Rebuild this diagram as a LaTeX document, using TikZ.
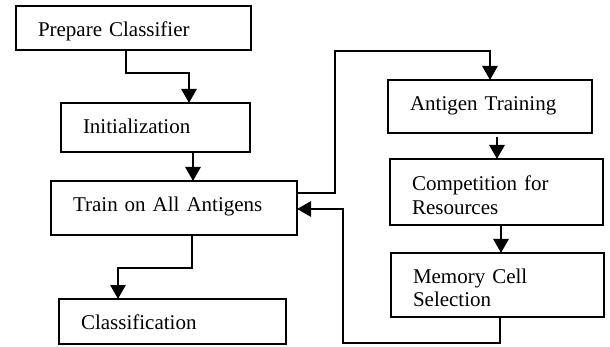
\documentclass[tikz,border=0pt]{standalone}
\usepackage{fontspec}
\setmainfont{Liberation Serif}
\usetikzlibrary{arrows.meta}
\begin{document}
\begin{tikzpicture}[x=1pt,y=-1pt,
  box/.style={draw=black,line width=2.8pt,rectangle,outer sep=0pt,inner xsep=22pt,inner ysep=0pt,
    align=left,font=\fontsize{21}{23.5}\selectfont},
  arr/.style={draw=black,line width=2.8pt,-{Triangle[length=14pt,width=15pt]}}]
  \useasboundingbox (0,0) rectangle (610,347);

  % left column
  \node[box,minimum width=235pt,minimum height=44pt,text width=191pt,text height=18pt,text depth=0pt]
    (prep) at (133.5,28) {Prepare Classifier};
  \node[box,minimum width=189pt,minimum height=49pt,text width=145pt,text height=13pt,text depth=0pt]
    (init) at (155.5,127.5) {Initialization};
  \node[box,minimum width=246pt,minimum height=54pt,text width=202pt,text height=8pt,text depth=0pt]
    (train) at (174,208) {Train on All Antigens};
  \node[box,minimum width=227pt,minimum height=45pt,text width=183pt,text height=15pt,text depth=0pt]
    (class) at (172.5,321.5) {Classification};

  % right column
  \node[box,minimum width=204pt,minimum height=53pt,text width=160pt,text height=9pt,text depth=0pt]
    (ag) at (490,106.5) {Antigen Training};
  \node[box,minimum width=213pt,minimum height=66pt,text width=169pt,text height=21pt,text depth=23.5pt]
    (comp) at (496.5,192) {Competition for\\Resources};
  \node[box,minimum width=213pt,minimum height=64pt,text width=169pt,text height=20pt,text depth=23.5pt]
    (mem) at (497.5,285) {Memory Cell\\Selection};

  % connectors
  \draw[arr] (prep.south -| 126,0) |- (189,73) -- (init.north -| 189,0);
  \draw[arr] (init.south -| 193,0) -- (train.north -| 193,0);
  \draw[arr] (train.south -| 192,0) |- (118,268) -- (class.north -| 118,0);
  \draw[arr] (train.east |- 0,193) -- (335,193) |- (490,51) -- (ag.north -| 490,0);
  \draw[arr] ([yshift=-4pt]ag.south -| 497,0) -- (comp.north -| 497,0);
  \draw[arr] (comp.south -| 501,0) -- (mem.north -| 501,0);
  \draw[arr] (mem.south -| 500,0) |- (343,343) |- (train.east |- 0,209);
\end{tikzpicture}
\end{document}
